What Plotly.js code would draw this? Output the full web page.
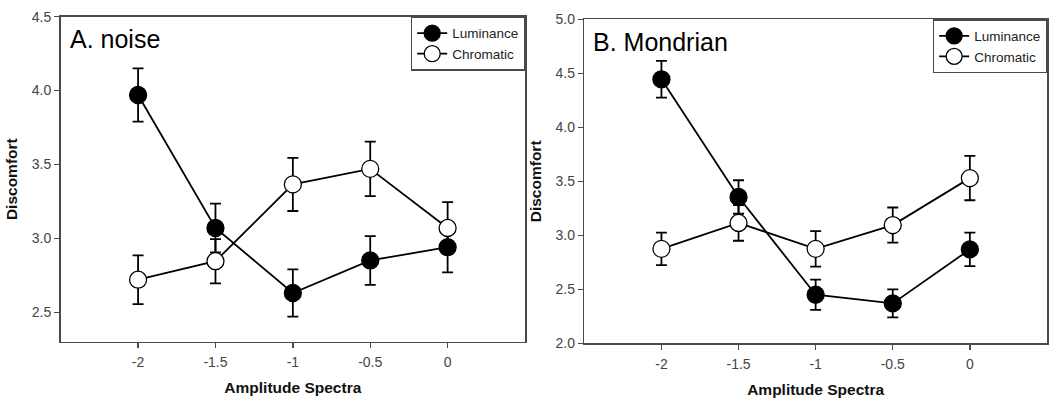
<!DOCTYPE html>
<html>
<head>
<meta charset="utf-8">
<script src="https://cdn.plot.ly/plotly-3.0.1.min.js"></script>
<style>
  html, body { margin: 0; padding: 0; background: #ffffff; }
  #chart { width: 1050px; height: 403px; }
</style>
</head>
<body>
<div id="chart"></div>
<script>
// ---- Data ----
const amplitudeSpectra = [-2, -1.5, -1, -0.5, 0];
const xTickText = ['-2', '-1.5', '-1', '-0.5', '0'];

// Panel A: noise
const noiseLuminance = [3.97, 3.07, 2.63, 2.85, 2.94];
const noiseLuminanceErr = [0.18, 0.165, 0.16, 0.165, 0.17];
const noiseChromatic = [2.72, 2.845, 3.365, 3.47, 3.07];
const noiseChromaticErr = [0.165, 0.15, 0.18, 0.185, 0.175];

// Panel B: Mondrian
const mondrianLuminance = [4.445, 3.355, 2.45, 2.37, 2.87];
const mondrianLuminanceErr = [0.17, 0.155, 0.14, 0.13, 0.155];
const mondrianChromatic = [2.875, 3.115, 2.875, 3.095, 3.53];
const mondrianChromaticErr = [0.15, 0.165, 0.165, 0.163, 0.205];

const yTicksA = [2.5, 3.0, 3.5, 4.0, 4.5];
const yTicksB = [2.0, 2.5, 3.0, 3.5, 4.0, 4.5, 5.0];

const panelLabels = ['A. noise', 'B. Mondrian'];
const seriesNames = ['Luminance', 'Chromatic'];

// ---- Styling ----
const FONT = 'Liberation Sans, Arial, sans-serif';
const AXIS_COLOR = '#4a4a4a';
const TICK_FONT_COLOR = '#444444';

function series(x, y, err, name, filled, xa, ya, legendId) {
  return {
    type: 'scatter',
    mode: 'lines+markers',
    x: x, y: y, name: name,
    xaxis: xa, yaxis: ya,
    legend: legendId,
    line: { color: '#000000', width: 1.8 },
    marker: {
      symbol: 'circle',
      size: 17,
      color: filled ? '#000000' : '#ffffff',
      line: { color: '#000000', width: 1.3 }
    },
    error_y: {
      type: 'data', array: err, visible: true,
      color: '#000000', thickness: 1.8, width: 5.5
    },
    hoverinfo: 'skip'
  };
}

const traces = [
  series(amplitudeSpectra, noiseLuminance, noiseLuminanceErr, seriesNames[0], true, 'x', 'y', 'legend'),
  series(amplitudeSpectra, noiseChromatic, noiseChromaticErr, seriesNames[1], false, 'x', 'y', 'legend'),
  series(amplitudeSpectra, mondrianLuminance, mondrianLuminanceErr, seriesNames[0], true, 'x2', 'y2', 'legend2'),
  series(amplitudeSpectra, mondrianChromatic, mondrianChromaticErr, seriesNames[1], false, 'x2', 'y2', 'legend2')
];

function xAxis(domain, anchor) {
  return {
    domain: domain, anchor: anchor,
    range: [-2.5, 0.5],
    tickvals: amplitudeSpectra, ticktext: xTickText,
    ticks: 'outside', ticklen: 5, tickwidth: 1.3, tickcolor: AXIS_COLOR,
    showline: true, linecolor: AXIS_COLOR, linewidth: 1.6, mirror: true,
    showgrid: false, zeroline: false,
    tickfont: { family: FONT, size: 14, color: TICK_FONT_COLOR },
    ticklabelstandoff: 2,
    title: { text: 'Amplitude Spectra', font: { family: FONT, size: 15.5, color: '#111111', weight: 'bold' }, standoff: 13 }
  };
}
function yAxis(domain, anchor, range, ticks) {
  return {
    domain: domain, anchor: anchor,
    range: range,
    tickvals: ticks, tickformat: '.1f',
    ticks: 'outside', ticklen: 5, tickwidth: 1.3, tickcolor: AXIS_COLOR,
    showline: true, linecolor: AXIS_COLOR, linewidth: 1.6, mirror: true,
    showgrid: false, zeroline: false,
    tickfont: { family: FONT, size: 14, color: TICK_FONT_COLOR },
    title: { text: 'Discomfort', font: { family: FONT, size: 15.5, color: '#111111', weight: 'bold' }, standoff: 10 }
  };
}

function legendBox(xRight, yTop) {
  return {
    x: xRight, xanchor: 'right', xref: 'paper',
    y: yTop, yanchor: 'top', yref: 'paper',
    bgcolor: '#ffffff', bordercolor: AXIS_COLOR, borderwidth: 1.2,
    font: { family: FONT, size: 13.5, color: '#222222' },
    itemwidth: 30,
    tracegroupgap: 0
  };
}

const layout = {
  width: 1050, height: 403,
  margin: { l: 0, r: 0, t: 0, b: 0 },
  paper_bgcolor: '#ffffff', plot_bgcolor: '#ffffff',
  showlegend: true,
  xaxis: xAxis([0.0578, 0.5], 'y'),
  yaxis: yAxis([0.152, 0.9586], 'x', [2.3, 4.5], yTicksA),
  xaxis2: xAxis([0.5565, 0.9971], 'y2'),
  yaxis2: yAxis([0.148, 0.952], 'x2', [2.0, 5.0], yTicksB),
  legend: legendBox(0.5, 0.9586),
  legend2: legendBox(0.9971, 0.952),
  annotations: [
    { text: panelLabels[0], xref: 'x domain', yref: 'y domain', x: 0.015, y: 0.93,
      xanchor: 'left', yanchor: 'middle', showarrow: false,
      font: { family: FONT, size: 25, color: '#000000' } },
    { text: panelLabels[1], xref: 'x2 domain', yref: 'y2 domain', x: 0.015, y: 0.93,
      xanchor: 'left', yanchor: 'middle', showarrow: false,
      font: { family: FONT, size: 25, color: '#000000' } }
  ]
};

Plotly.newPlot('chart', traces, layout, { displayModeBar: false, staticPlot: true });
</script>
</body>
</html>
